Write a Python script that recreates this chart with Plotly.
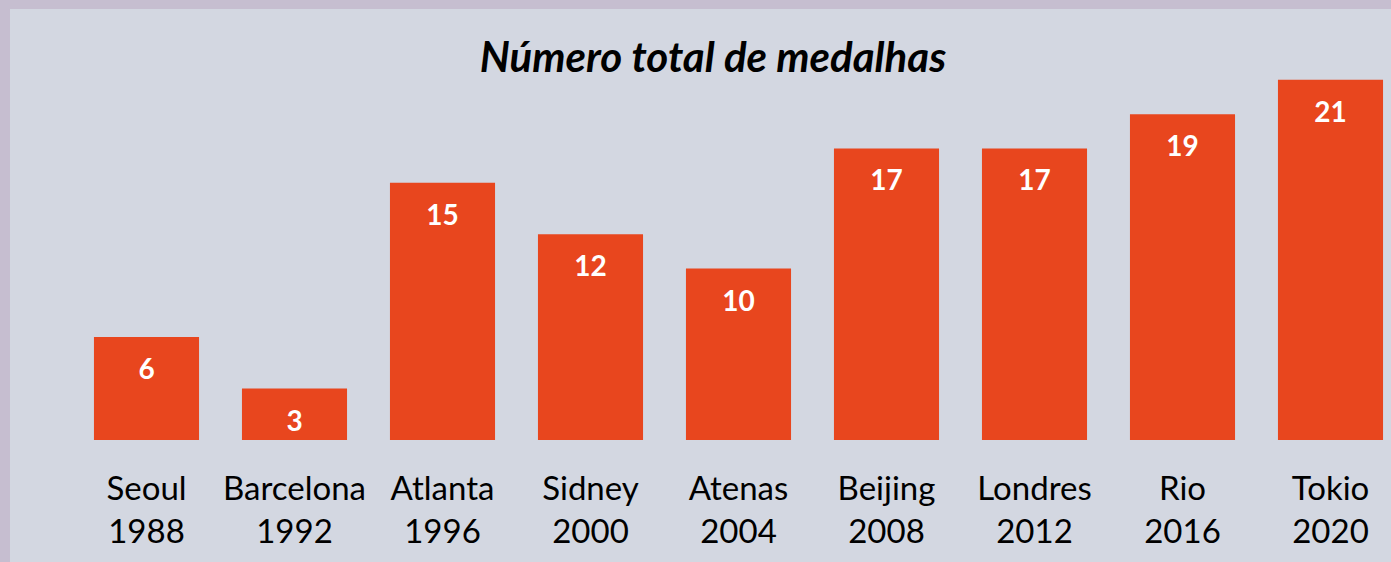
import plotly.graph_objects as go

cities = ["Seoul", "Barcelona", "Atlanta", "Sidney", "Atenas", "Beijing", "Londres", "Rio", "Tokio"]
years = ["1988", "1992", "1996", "2000", "2004", "2008", "2012", "2016", "2020"]
medals = [6, 3, 15, 12, 10, 17, 17, 19, 21]

labels = [f"{c}<br>{y}" for c, y in zip(cities, years)]
idx = list(range(len(medals)))

W, H = 1391, 562
BASE_Y = 440          # pixel of the baseline
PX_PER_UNIT = 17.15   # pixels per medal
SPACING = 148         # pixels between category centers
FIRST_CENTER = 146.5  # pixel x of the first category

x0 = -FIRST_CENTER / SPACING
x1 = x0 + W / SPACING
label_offset = 35 / PX_PER_UNIT

fig = go.Figure()
fig.add_trace(go.Bar(
    x=idx, y=medals, width=0.71,
    marker=dict(color="#e8461e", line=dict(width=0)),
    hoverinfo="skip",
))
fig.add_trace(go.Scatter(
    x=idx, y=[m - label_offset for m in medals],
    mode="text", text=[str(m) for m in medals],
    textposition="middle center",
    textfont=dict(family="Lato", size=28, color="white", weight="bold"),
    hoverinfo="skip",
))

fig.update_layout(
    width=W, height=H,
    margin=dict(l=0, r=0, t=0, b=H - BASE_Y, pad=0),
    paper_bgcolor="#c6bed0",
    plot_bgcolor="rgba(0,0,0,0)",
    showlegend=False,
    title=dict(
        text="<b><i>Número total de medalhas</i></b>",
        x=713 / W, xanchor="center", xref="paper",
        y=1 - 57 / H, yanchor="middle", yref="container",
        font=dict(family="Lato", size=42, color="black"),
    ),
    shapes=[dict(
        type="rect", xref="paper", yref="paper",
        x0=10 / W, x1=1.02, y0=-(H - BASE_Y + 10) / BASE_Y, y1=(BASE_Y - 9) / BASE_Y,
        fillcolor="#d3d7e1", line=dict(width=0), layer="below",
    )],
)
fig.update_xaxes(
    range=[x0, x1], tickmode="array", tickvals=idx, ticktext=labels,
    showgrid=False, zeroline=False, showline=False, ticks="",
    tickfont=dict(family="Lato", size=33, color="black"),
    ticklabelstandoff=26,
)
fig.update_yaxes(
    range=[0, BASE_Y / PX_PER_UNIT], showgrid=False, zeroline=False,
    showline=False, showticklabels=False,
)

fig.write_html(
    "out.html",
    config={"displayModeBar": False},
    post_script="document.body.style.margin='0';document.body.style.background='#c6bed0';",
)
